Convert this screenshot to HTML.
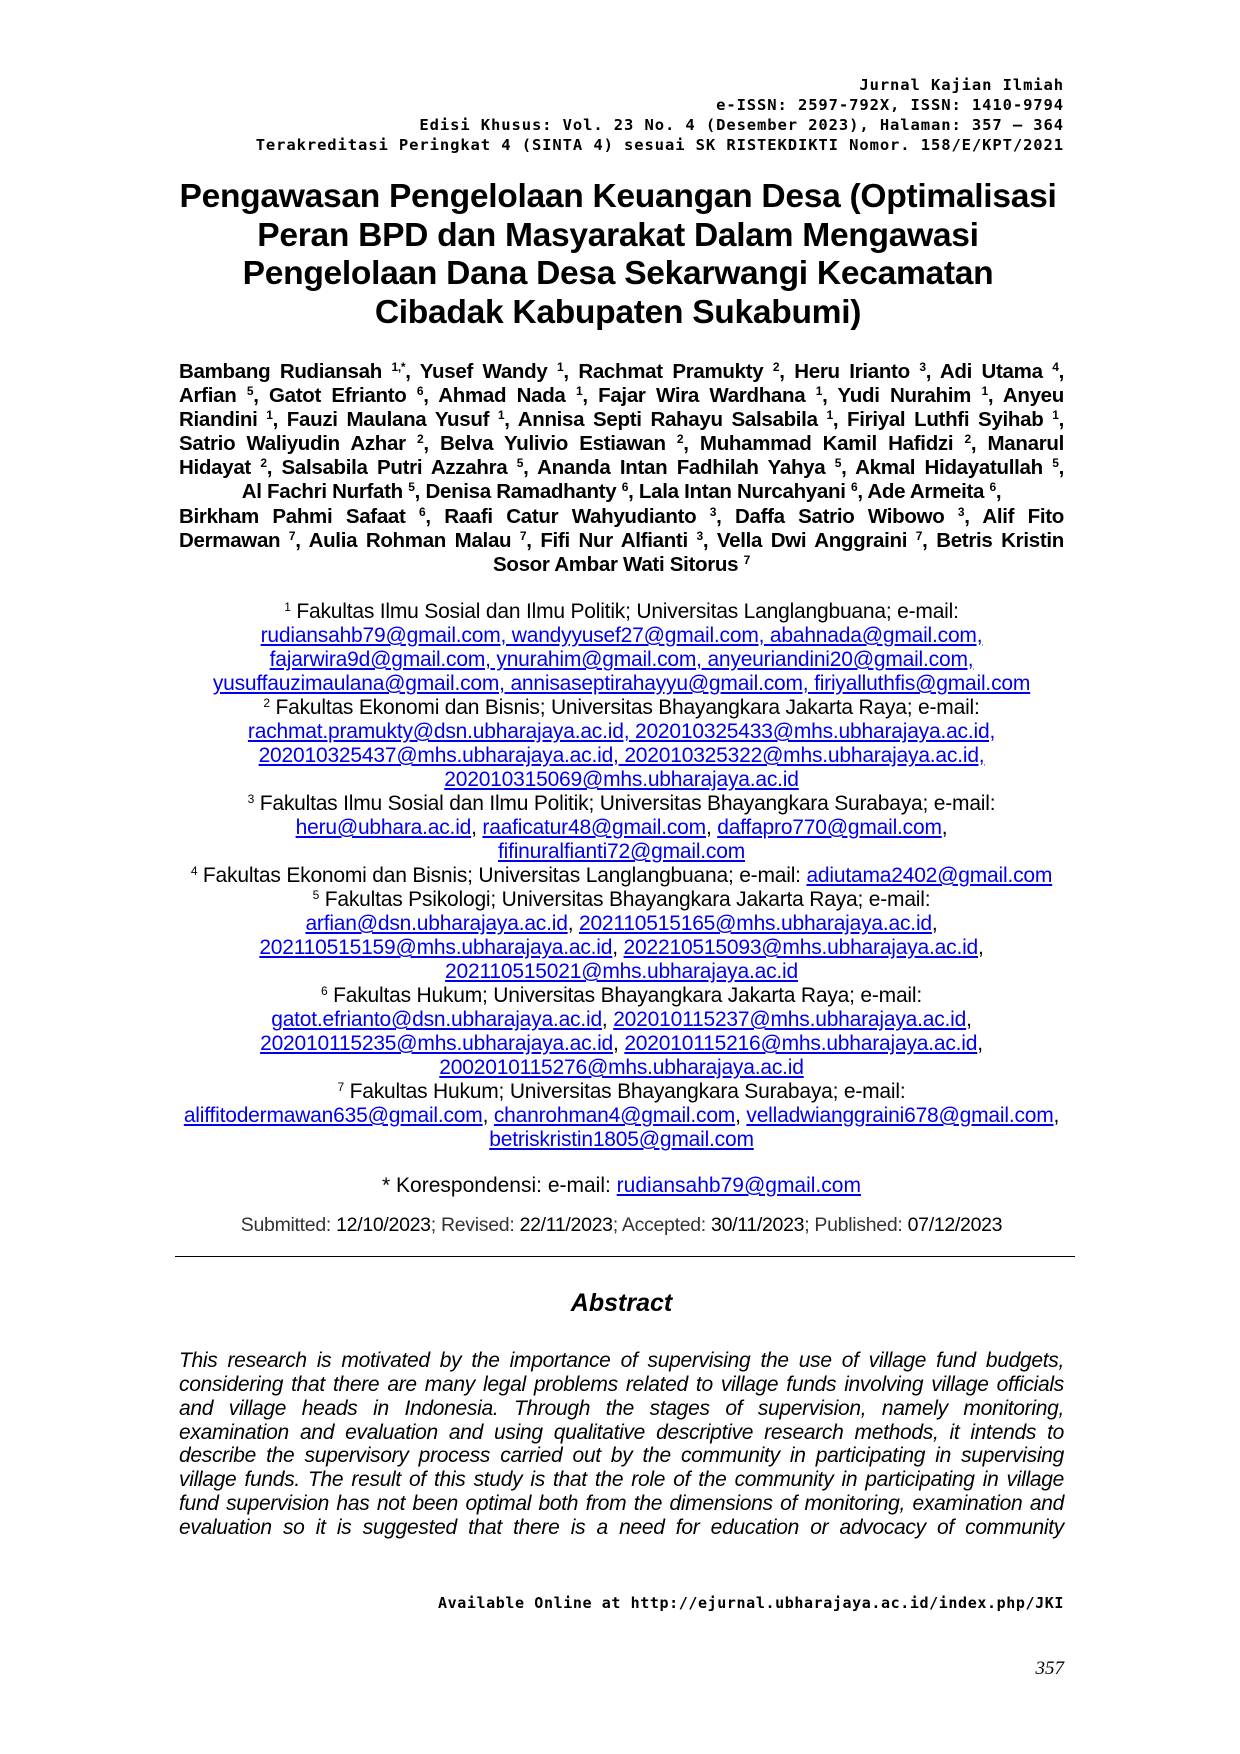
<!DOCTYPE html>
<html><head><meta charset="utf-8"><style>
html,body{margin:0;padding:0;background:#fff}
body{width:1240px;height:1754px;position:relative;overflow:hidden;font-family:"Liberation Sans",Arial,sans-serif;color:#000}
.abs{position:absolute}
.hdr{right:176px;text-align:right;font-family:"DejaVu Sans Mono",monospace;font-weight:bold;font-size:15.5px;letter-spacing:0.9px;line-height:20px;top:75px;white-space:nowrap}
.title{left:150px;width:936px;text-align:center;font-weight:bold;font-size:33.6px;line-height:38.5px;top:178px;letter-spacing:-0.3px}
.auth{left:179px;width:885px;font-weight:bold;font-size:20.5px;line-height:24.1px;top:360px;letter-spacing:-0.3px}
.auth div{white-space:nowrap}
.j{text-align:justify;text-align-last:justify}
.c{text-align:center}
sup{font-size:12px;line-height:0;vertical-align:7px}
.aff{left:150px;width:943px;text-align:center;font-size:21px;line-height:24.0px;top:600px;letter-spacing:-0.2px}
.aff div{white-space:nowrap}
a{color:#0000ee;text-decoration:underline}
.kor{left:150px;width:943px;text-align:center;font-size:21px;top:1174px;line-height:24px}
.sub{left:150px;width:943px;text-align:center;font-size:19.5px;top:1214px;color:#333;line-height:22px;letter-spacing:-0.3px}
.sub span{color:#000}
.hr{left:175px;width:900px;top:1256px;height:0;border-top:1.5px solid #000}
.abst{left:150px;width:943px;text-align:center;font-weight:bold;font-style:italic;font-size:25px;top:1289px}
.par{left:179px;width:885px;font-style:italic;font-size:21px;line-height:23.85px;top:1349px;letter-spacing:-0.3px}
.par div{text-align:justify;text-align-last:justify;white-space:nowrap}
.avail{right:176px;top:1594px;font-family:"DejaVu Sans Mono",monospace;font-weight:bold;font-size:15px;letter-spacing:0.6px;white-space:nowrap}
.pg{right:176px;top:1658px;font-family:"Liberation Serif",serif;font-style:italic;font-size:19px}
</style></head><body>
<div class="abs hdr">Jurnal Kajian Ilmiah<br>e-ISSN: 2597-792X, ISSN: 1410-9794<br>Edisi Khusus: Vol. 23 No. 4 (Desember 2023), Halaman: 357 – 364<br>Terakreditasi Peringkat 4 (SINTA 4) sesuai SK RISTEKDIKTI Nomor. 158/E/KPT/2021</div>

<div class="abs title">Pengawasan Pengelolaan Keuangan Desa (Optimalisasi<br>Peran BPD dan Masyarakat Dalam Mengawasi<br>Pengelolaan Dana Desa Sekarwangi Kecamatan<br>Cibadak Kabupaten Sukabumi)</div>

<div class="abs auth">
<div class="j">Bambang Rudiansah <sup>1,*</sup>, Yusef Wandy <sup>1</sup>, Rachmat Pramukty <sup>2</sup>, Heru Irianto <sup>3</sup>, Adi Utama <sup>4</sup>,</div>
<div class="j">Arfian <sup>5</sup>, Gatot Efrianto <sup>6</sup>, Ahmad Nada <sup>1</sup>, Fajar Wira Wardhana <sup>1</sup>, Yudi Nurahim <sup>1</sup>, Anyeu</div>
<div class="j">Riandini <sup>1</sup>, Fauzi Maulana Yusuf <sup>1</sup>, Annisa Septi Rahayu Salsabila <sup>1</sup>, Firiyal Luthfi Syihab <sup>1</sup>,</div>
<div class="j">Satrio Waliyudin Azhar <sup>2</sup>, Belva Yulivio Estiawan <sup>2</sup>, Muhammad Kamil Hafidzi <sup>2</sup>, Manarul</div>
<div class="j">Hidayat <sup>2</sup>, Salsabila Putri Azzahra <sup>5</sup>, Ananda Intan Fadhilah Yahya <sup>5</sup>, Akmal Hidayatullah <sup>5</sup>,</div>
<div class="c">Al Fachri Nurfath <sup>5</sup>, Denisa Ramadhanty <sup>6</sup>, Lala Intan Nurcahyani <sup>6</sup>, Ade Armeita <sup>6</sup>,</div>
<div class="j">Birkham Pahmi Safaat <sup>6</sup>, Raafi Catur Wahyudianto <sup>3</sup>, Daffa Satrio Wibowo <sup>3</sup>, Alif Fito</div>
<div class="j">Dermawan <sup>7</sup>, Aulia Rohman Malau <sup>7</sup>, Fifi Nur Alfianti <sup>3</sup>, Vella Dwi Anggraini <sup>7</sup>, Betris Kristin</div>
<div class="c">Sosor Ambar Wati Sitorus <sup>7</sup></div>
</div>

<div class="abs aff">
<div><sup>1</sup> Fakultas Ilmu Sosial dan Ilmu Politik; Universitas Langlangbuana; e-mail:</div>
<div><a>rudiansahb79@gmail.com, wandyyusef27@gmail.com, abahnada@gmail.com,</a></div>
<div><a>fajarwira9d@gmail.com, ynurahim@gmail.com, anyeuriandini20@gmail.com,</a></div>
<div><a>yusuffauzimaulana@gmail.com, annisaseptirahayyu@gmail.com, firiyalluthfis@gmail.com</a></div>
<div><sup>2</sup> Fakultas Ekonomi dan Bisnis; Universitas Bhayangkara Jakarta Raya; e-mail:</div>
<div><a>rachmat.pramukty@dsn.ubharajaya.ac.id, 202010325433@mhs.ubharajaya.ac.id,</a></div>
<div><a>202010325437@mhs.ubharajaya.ac.id, 202010325322@mhs.ubharajaya.ac.id,</a></div>
<div><a>202010315069@mhs.ubharajaya.ac.id</a></div>
<div><sup>3</sup> Fakultas Ilmu Sosial dan Ilmu Politik; Universitas Bhayangkara Surabaya; e-mail:</div>
<div><a>heru@ubhara.ac.id</a>, <a>raaficatur48@gmail.com</a>, <a>daffapro770@gmail.com</a>,</div>
<div><a>fifinuralfianti72@gmail.com</a></div>
<div><sup>4</sup> Fakultas Ekonomi dan Bisnis; Universitas Langlangbuana; e-mail: <a>adiutama2402@gmail.com</a></div>
<div><sup>5</sup> Fakultas Psikologi; Universitas Bhayangkara Jakarta Raya; e-mail:</div>
<div><a>arfian@dsn.ubharajaya.ac.id</a>, <a>202110515165@mhs.ubharajaya.ac.id</a>,</div>
<div><a>202110515159@mhs.ubharajaya.ac.id</a>, <a>202210515093@mhs.ubharajaya.ac.id</a>,</div>
<div><a>202110515021@mhs.ubharajaya.ac.id</a></div>
<div><sup>6</sup> Fakultas Hukum; Universitas Bhayangkara Jakarta Raya; e-mail:</div>
<div><a>gatot.efrianto@dsn.ubharajaya.ac.id</a>, <a>202010115237@mhs.ubharajaya.ac.id</a>,</div>
<div><a>202010115235@mhs.ubharajaya.ac.id</a>, <a>202010115216@mhs.ubharajaya.ac.id</a>,</div>
<div><a>2002010115276@mhs.ubharajaya.ac.id</a></div>
<div><sup>7</sup> Fakultas Hukum; Universitas Bhayangkara Surabaya; e-mail:</div>
<div><a>aliffitodermawan635@gmail.com</a>, <a>chanrohman4@gmail.com</a>, <a>velladwianggraini678@gmail.com</a>,</div>
<div><a>betriskristin1805@gmail.com</a></div>
</div>

<div class="abs kor">* Korespondensi: e-mail: <a>rudiansahb79@gmail.com</a></div>
<div class="abs sub">Submitted: <span>12/10/2023</span>; Revised: <span>22/11/2023</span>; Accepted: <span>30/11/2023</span>; Published: <span>07/12/2023</span></div>
<div class="abs hr"></div>
<div class="abs abst">Abstract</div>

<div class="abs par">
<div>This research is motivated by the importance of supervising the use of village fund budgets,</div>
<div>considering that there are many legal problems related to village funds involving village officials</div>
<div>and village heads in Indonesia. Through the stages of supervision, namely monitoring,</div>
<div>examination and evaluation and using qualitative descriptive research methods, it intends to</div>
<div>describe the supervisory process carried out by the community in participating in supervising</div>
<div>village funds. The result of this study is that the role of the community in participating in village</div>
<div>fund supervision has not been optimal both from the dimensions of monitoring, examination and</div>
<div>evaluation so it is suggested that there is a need for education or advocacy of community</div>
</div>

<div class="abs avail">Available Online at http://ejurnal.ubharajaya.ac.id/index.php/JKI</div>
<div class="abs pg">357</div>
</body></html>
